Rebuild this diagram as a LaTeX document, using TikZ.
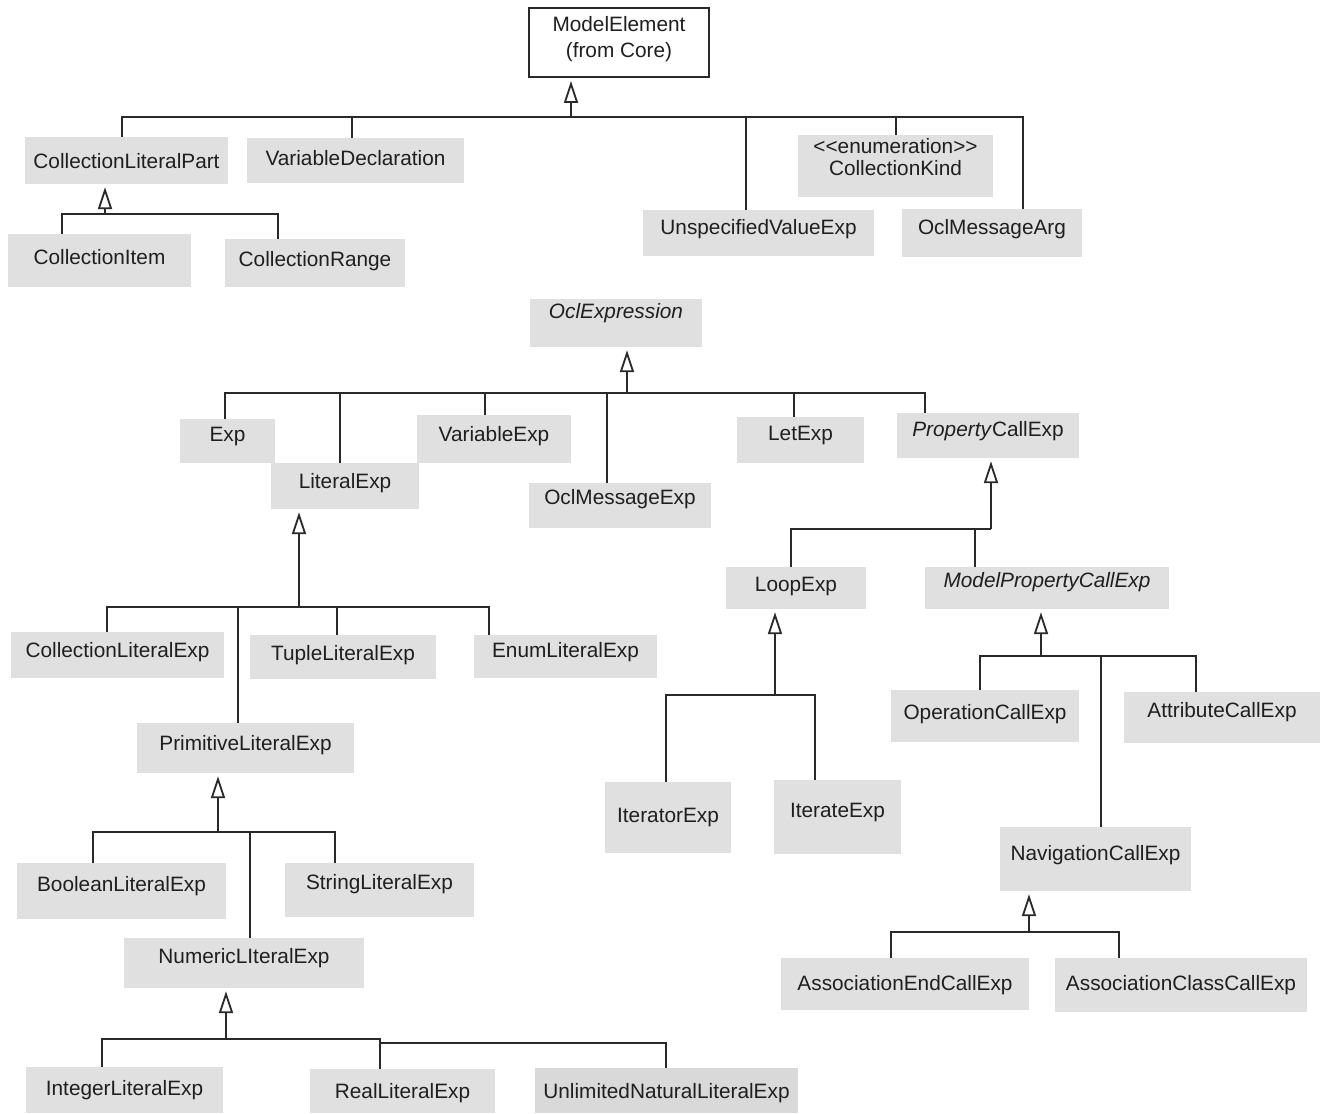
\documentclass[tikz,border=0pt]{standalone}
\usepackage{fontspec}
\setmainfont{Liberation Sans}
\usetikzlibrary{arrows.meta}
\definecolor{BoxClr}{rgb}{0.88,0.88,0.88}
\definecolor{DarkBoxClr}{rgb}{0.85,0.85,0.85}
\definecolor{LineClr}{rgb}{0.16,0.16,0.16}
\definecolor{TextClr}{rgb}{0.12,0.12,0.12}

\begin{document}
\begin{tikzpicture}[x=1pt,y=-1pt,
  clsbox/.style={fill=BoxClr,inner sep=0pt,text=TextClr,font=\fontsize{20.8}{26}\selectfont},
  cls/.style={clsbox,text height=15pt,text depth=#1},
  cls/.default=12pt,
  sz/.style 2 args={minimum width=#1pt,minimum height=#2pt},
  meta/.style={draw=LineClr,line width=2pt,fill=white,inner sep=0pt,text=TextClr,font=\fontsize{20.8}{26}\selectfont},
  line/.style={draw=LineClr,line width=1.8pt},
  gen/.style={line,-{Triangle[open,length=22pt,width=14pt]},shorten >=3pt}]
\useasboundingbox (0,0) rectangle (1327,1113);

% classes
\node[meta,sz={180}{69}] (me) at (619,42.5) {\raisebox{3.2pt}[\height][\depth]{\begin{tabular}{@{}c@{}}ModelElement\\(from Core)\end{tabular}}};
\node[cls=0pt,sz={203}{47}] (clp) at (126.5,160.5) {CollectionLiteralPart};
\node[cls=6pt,sz={217}{45}] (vd) at (355.5,160.5) {VariableDeclaration};
\node[cls=7pt,sz={183}{53}] (ci) at (99.5,260.5) {CollectionItem};
\node[cls=8pt,sz={180}{48}] (cr) at (315,263) {CollectionRange};
\node[cls=13pt,sz={231}{46}] (uve) at (758.5,233) {UnspecifiedValueExp};
\node[clsbox,sz={195}{62}] (ck) at (895.5,166) {\raisebox{6.7pt}[\height][\depth]{\begin{tabular}{@{}c@{}}<\kern0pt<enumeration>\kern0pt>\\[-4pt]CollectionKind\end{tabular}}};
\node[cls,sz={180}{48}] (oma) at (992,233) {OclMessageArg};

\node[cls=25pt,sz={172}{48}] (oe) at (616,323) {\itshape OclExpression};
\node[cls=14pt,sz={95}{44}] (exp) at (227.5,441) {Exp};
\node[cls=10pt,sz={148}{46}] (le) at (345,486) {LiteralExp};
\node[cls=10pt,sz={154}{48}] (ve) at (494,439) {VariableExp};
\node[cls=17pt,sz={182}{45}] (ome) at (620,505.5) {OclMessageExp};
\node[cls=14pt,sz={127}{46}] (let) at (800.5,440) {LetExp};
\node[cls=13pt,sz={182}{45}] (pce) at (988,435.5) {\textit{Property}CallExp};
\node[cls=8pt,sz={140}{42}] (loop) at (796,588) {LoopExp};
\node[cls=17pt,sz={244}{42}] (mpce) at (1047,588) {\itshape ModelPropertyCallExp};

\node[cls=10pt,sz={213}{46}] (cle) at (117.5,655) {CollectionLiteralExp};
\node[cls=9pt,sz={186}{44}] (tle) at (343,657) {TupleLiteralExp};
\node[cls=13pt,sz={183}{43}] (ele) at (565.5,656.5) {EnumLiteralExp};
\node[cls=11pt,sz={217}{50}] (ple) at (245.5,748) {PrimitiveLiteralExp};
\node[cls=15pt,sz={209}{56}] (ble) at (121.5,891) {BooleanLiteralExp};
\node[cls=17pt,sz={189}{54}] (sle) at (379.5,890) {StringLiteralExp};
\node[cls=14pt,sz={240}{50}] (nle) at (244,963) {NumericLIteralExp};
\node[cls=5pt,sz={197}{46}] (ile) at (124.5,1090) {IntegerLiteralExp};
\node[cls=0pt,sz={185}{44}] (rle) at (402.5,1091) {RealLiteralExp};
\node[cls=0pt,sz={263}{45},fill=DarkBoxClr] (unle) at (666.5,1090.5) {UnlimitedNaturalLiteralExp};

\node[cls=8pt,sz={188}{52}] (oce) at (985,716) {OperationCallExp};
\node[cls=16pt,sz={196}{51}] (ace) at (1222,717.5) {AttributeCallExp};
\node[cls=6pt,sz={126}{71}] (ite) at (668,817.5) {IteratorExp};
\node[cls=15pt,sz={127}{74}] (itr) at (837.5,817) {IterateExp};
\node[cls=12pt,sz={191}{64}] (nce) at (1095.5,859) {NavigationCallExp};
\node[cls=2pt,sz={248}{52}] (aece) at (905,984) {AssociationEndCallExp};
\node[cls=4pt,sz={252}{54}] (acce) at (1181,985) {AssociationClassCallExp};

% generalizations
\coordinate (j1) at (571,117);
\draw[gen] (j1) -- (me.south -| j1);
\draw[line] (clp.north -| 122,0) |- (j1);
\draw[line] (vd.north -| 352,0) |- (j1);
\draw[line] (uve.north -| 746,0) |- (j1);
\draw[line] (ck.north -| 896,0) |- (j1);
\draw[line] (oma.north -| 1023,0) |- (j1);

\coordinate (j2) at (105,214);
\draw[gen] (j2) -- (clp.south -| j2);
\draw[line] (ci.north -| 62,0) |- (j2);
\draw[line] (cr.north -| 278,0) |- (j2);

\coordinate (j3) at (627,393);
\draw[gen] (j3) -- (oe.south -| j3);
\draw[line] (exp.north -| 225,0) |- (j3);
\draw[line] (le.north -| 340,0) |- (j3);
\draw[line] (ve.north -| 485,0) |- (j3);
\draw[line] (ome.north -| 607,0) |- (j3);
\draw[line] (let.north -| 794,0) |- (j3);
\draw[line] (pce.north -| 925,0) |- (j3);

\coordinate (j4) at (299,607);
\draw[gen] (j4) -- (le.south -| j4);
\draw[line] (cle.north -| 107,0) |- (j4);
\draw[line] (ple.north -| 238,0) |- (j4);
\draw[line] (tle.north -| 337,0) |- (j4);
\draw[line] (ele.north -| 489,0) |- (j4);

\coordinate (j5) at (991,529);
\draw[gen] (j5) -- (pce.south -| j5);
\draw[line] (loop.north -| 791,0) |- (j5);
\draw[line] (mpce.north -| 975,0) |- (j5);

\coordinate (j6) at (775,695);
\draw[gen] (j6) -- (loop.south -| j6);
\draw[line] (ite.north -| 666,0) |- (j6);
\draw[line] (itr.north -| 815,0) |- (j6);

\coordinate (j7) at (1041,656);
\draw[gen] (j7) -- (mpce.south -| j7);
\draw[line] (oce.north -| 980,0) |- (j7);
\draw[line] (nce.north -| 1101,0) |- (j7);
\draw[line] (ace.north -| 1196,0) |- (j7);

\coordinate (j8) at (218,832);
\draw[gen] (j8) -- (ple.south -| j8);
\draw[line] (ble.north -| 93,0) |- (j8);
\draw[line] (nle.north -| 250,0) |- (j8);
\draw[line] (sle.north -| 335,0) |- (j8);

\coordinate (j9) at (226,1039);
\coordinate (j9u) at (379,1043);
\draw[gen] (j9) -- (nle.south -| j9);
\draw[line] (ile.north -| 102,0) |- (j9);
\draw[line] (rle.north -| 380,0) |- (j9);
\draw[line] (unle.north -| 666,0) |- (j9u);

\coordinate (j10) at (1029,932);
\draw[gen] (j10) -- (nce.south -| j10);
\draw[line] (aece.north -| 891,0) |- (j10);
\draw[line] (acce.north -| 1119,0) |- (j10);

\end{tikzpicture}
\end{document}
